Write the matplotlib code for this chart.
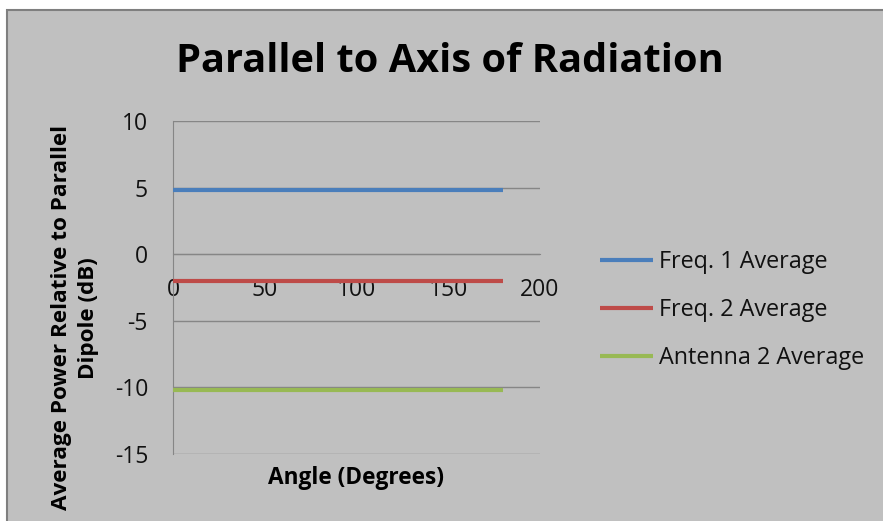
import matplotlib.pyplot as plt
from matplotlib.patches import Rectangle

# angle sweep end points (degrees) and averaged power (dB)
angles = [0, 180]
freq1_avg = [4.8, 4.8]
freq2_avg = [-2.0, -2.0]
antenna2_avg = [-10.2, -10.2]

series_names = ['Freq. 1 Average', 'Freq. 2 Average', 'Antenna 2 Average']
series_colors = ['#4a7ebb', '#be4b48', '#98b954']

plt.rcParams['font.family'] = ['Open Sans', 'DejaVu Sans']
plt.rcParams['axes.unicode_minus'] = False

W, H = 883, 521
fig = plt.figure(figsize=(W / 100, H / 100), dpi=100)
fig.patch.set_facecolor('white')
fig.patches.append(Rectangle((7 / W, -0.05), 1.2, 1 - 10 / H + 0.05,
                             transform=fig.transFigure, facecolor='#c0c0c0',
                             edgecolor='#7f7f7f', linewidth=1.5, zorder=-1))

ax = fig.add_axes([173 / W, 1 - 454 / H, (540 - 173) / W, (454 - 121) / H])
ax.set_facecolor('none')
ax.set_zorder(2)

for vals, name, col in zip([freq1_avg, freq2_avg, antenna2_avg],
                           series_names, series_colors):
    ax.plot(angles, vals, color=col, linewidth=3, label=name,
            solid_capstyle='butt', zorder=3)

ax.set_xlim(0, 200)
ax.set_ylim(-15, 10)
ax.set_yticks([-15, -10, -5, 0, 5, 10])
ax.set_xticks([0, 50, 100, 150, 200])
ax.grid(axis='y', color='#868686', linewidth=1)
ax.set_axisbelow(True)

for s in ['top', 'right']:
    ax.spines[s].set_visible(False)
ax.spines['bottom'].set_position(('data', 0))
ax.spines['bottom'].set_color('#868686')
ax.spines['left'].set_color('#868686')
ax.tick_params(length=0, labelsize=16.5, colors='#111111')
ax.tick_params(axis='y', pad=18)
ax.tick_params(axis='x', pad=17)

fig.text(450 / W, 1 - 62 / H, 'Parallel to Axis of Radiation',
         fontsize=28.6, fontweight='bold', ha='center', va='center')
fig.text(356 / W, 1 - 478 / H, 'Angle (Degrees)', fontsize=16.3,
         fontweight='bold', ha='center', va='center')
fig.text(75 / W, 1 - 318 / H, 'Average Power Relative to Parallel\nDipole (dB)',
         fontsize=16.2, fontweight='bold', ha='center', va='center',
         rotation=90, linespacing=1.35)

leg = fig.legend(loc='center left', bbox_to_anchor=(600 / W, 1 - 310 / H),
                 frameon=False, fontsize=16.8, handlelength=2.27,
                 handletextpad=0.26, labelspacing=1.04, borderpad=0,
                 borderaxespad=0)
for t in leg.get_texts():
    t.set_color('#111111')

fig.savefig('out.png', dpi=100)
